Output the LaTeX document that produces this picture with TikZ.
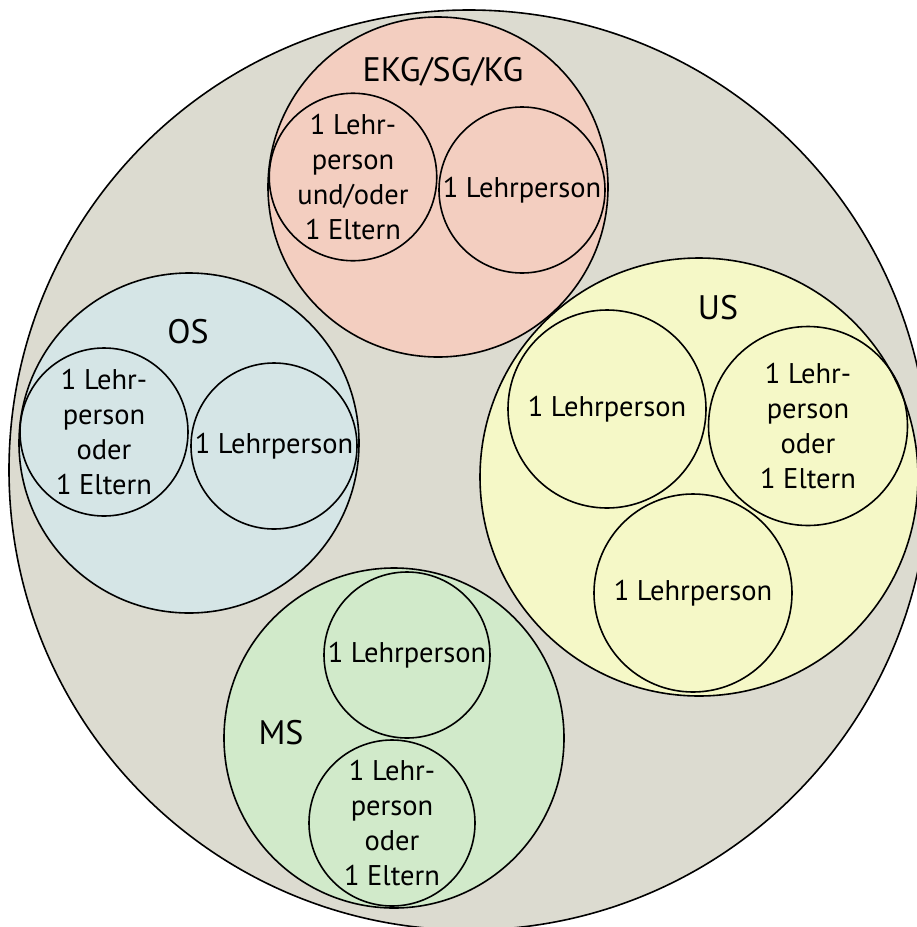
\documentclass[tikz,border=0pt]{standalone}
\usepackage{fontspec}
\setmainfont{PT Sans}
\definecolor{bgray}{RGB}{220,219,208}
\definecolor{salmon}{RGB}{243,206,192}
\definecolor{lblue}{RGB}{213,229,230}
\definecolor{lyellow}{RGB}{245,248,199}
\definecolor{lgreen}{RGB}{209,234,202}
\tikzset{
  ring/.style={circle, draw=black, line width=1.6pt, inner sep=0pt, align=center,
    font=\fontsize{28.5}{35}\selectfont},
  lab/.style={font=\fontsize{34}{40}\selectfont, inner sep=0pt}
}
\begin{document}
\begin{tikzpicture}[x=1pt,y=-1pt]
\useasboundingbox (0,0) rectangle (917,927);
\begin{scope}
\clip (0,0) rectangle (917,927);
\node[ring, fill=bgray, minimum size=920pt] (all) at (469,470) {};
% EKG
\node[ring, fill=salmon, minimum size=340pt] (ekg) at (438,187) {};
\node[ring, minimum size=166pt] (ekgA) at (353,177) {1 Lehr-\\person\\und/oder\\1 Eltern};
\node[ring, minimum size=166pt] (ekgB) at (522,190) {1 Lehrperson};
\node[lab] (ekgL) at (443,72) {EKG/SG/KG};
% OS
\node[ring, fill=lblue, minimum size=340pt] (os) at (189,443) {};
\node[ring, minimum size=168pt] (osA) at (104,432) {1 Lehr-\\person\\oder\\1 Eltern};
\node[ring, minimum size=166pt] (osB) at (274,446) {1 Lehrperson};
\node[lab] (osL) at (188,332) {OS};
% US
\node[ring, fill=lyellow, minimum size=438pt] (us) at (699,477) {};
\node[ring, minimum size=198pt] (usA) at (607,409) {1 Lehrperson};
\node[ring, minimum size=199pt] (usB) at (808,426) {1 Lehr-\\person\\oder\\1 Eltern};
\node[ring, minimum size=198pt] (usC) at (693,593) {1 Lehrperson};
\node[lab] (usL) at (718,308) {US};
% MS
\node[ring, fill=lgreen, minimum size=340pt] (ms) at (394,738) {};
\node[ring, minimum size=166pt] (msA) at (407,655) {1 Lehrperson};
\node[ring, minimum size=166pt] (msB) at (392,823) {1 Lehr-\\person\\oder\\1 Eltern};
\node[lab] (msL) at (281,733) {MS};
\end{scope}
\end{tikzpicture}
\end{document}
